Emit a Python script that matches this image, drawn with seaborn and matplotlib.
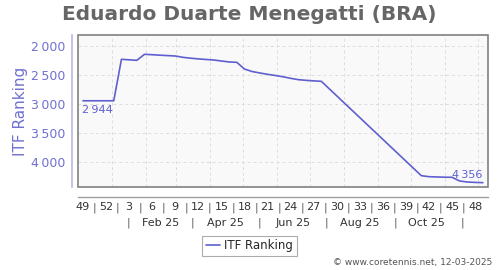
import matplotlib
matplotlib.use("Agg")
import matplotlib.pyplot as plt
import matplotlib.ticker as mticker
from matplotlib.patches import Rectangle
import seaborn as sns
import pandas as pd
import datetime as dt

# ---- data ----
weeks = [0, 1, 2, 3, 4, 5, 6, 7, 8, 9, 10, 11, 12, 13, 14, 15, 16, 17, 18, 19,
         20, 21, 22, 23, 24, 25, 26, 27, 28, 29, 30, 31,
         44, 45, 46, 47, 48, 49, 50, 51, 52]
ranks = [2944, 2944, 2944, 2944, 2944, 2229, 2238, 2247, 2143, 2150, 2158, 2165,
         2172, 2195, 2210, 2222, 2232, 2241, 2258, 2275, 2281, 2397, 2440, 2465,
         2488, 2508, 2530, 2557, 2580, 2592, 2601, 2609,
         4236, 4253, 4258, 4262, 4264, 4328, 4345, 4352, 4356]
week_labels = ["49", "52", "3", "6", "9", "12", "15", "18", "21", "24", "27",
               "30", "33", "36", "39", "42", "45", "48"]
month_labels = ["Feb 25", "Apr 25", "Jun 25", "Aug 25", "Oct 25"]
y_ticks = [2000, 2500, 3000, 3500, 4000]
series_name = "ITF Ranking"
title = "Eduardo Duarte Menegatti (BRA)"
credit = "\u00a9 www.coretennis.net, 12-03-2025"

origin = dt.date(2024, 12, 6)
def wpos(d):
    return (d - origin).days / 7.0

grid_dates = [dt.date(2025, m, 1) for m in range(1, 13)]
month_label_dates = [dt.date(2025, m, 15) for m in (2, 4, 6, 8, 10)]
sep_dates = [dt.date(2025, m, 16) for m in (1, 3, 5, 7, 9, 11)]

df = pd.DataFrame({"week": weeks, "rank": ranks})

LINE = "#5f5fcf"
LAV = "#7070d2"

sns.set_style("white")
plt.rcParams["font.family"] = ["DejaVu Sans"]

fig = plt.figure(figsize=(5, 2.7), dpi=100)
ax = fig.add_axes([78 / 500, 1 - 187 / 270, 410 / 500, 152 / 270])
ax.set_facecolor("#f9f9f9")

sns.lineplot(data=df, x="week", y="rank", ax=ax, color=LINE, linewidth=1.2,
             label=series_name, legend=False)

ax.set_xlim(-0.65, 52.67)
ax.set_ylim(4431, 1810)

# grid
for g in grid_dates:
    ax.axvline(wpos(g), color="#dddddd", lw=0.7, ls=(0, (3, 3)), zorder=0)
for y in y_ticks:
    ax.axhline(y, color="#dddddd", lw=0.7, ls=(0, (3, 3)), zorder=0)

# frame
ax.add_patch(Rectangle((0, 0), 1, 1, transform=ax.transAxes, fill=False,
                       edgecolor="#808080", lw=1.2, zorder=5, clip_on=False))

# spines
ax.spines["top"].set_visible(False)
ax.spines["right"].set_visible(False)
ax.spines["left"].set_position(("outward", 4))
ax.spines["left"].set_color("#b8b8e6")
ax.spines["left"].set_linewidth(1.2)
ax.spines["left"].set_bounds(4431, 1810)
ax.spines["bottom"].set_position(("outward", 7))
ax.spines["bottom"].set_color("#a0a0a0")
ax.spines["bottom"].set_linewidth(1.0)

# y ticks
ax.set_yticks(y_ticks)
ax.yaxis.set_major_formatter(mticker.FuncFormatter(
    lambda v, p: f"{v:,.0f}".replace(",", "\u2009")))
ax.tick_params(axis="y", length=3, width=1, color="#b8b8e6", pad=2,
               labelsize=9, labelcolor=LAV)
ax.set_ylabel(series_name, color=LAV, fontsize=11, labelpad=2)

# x ticks: weeks
ax.set_xticks([3 * k for k in range(len(week_labels))])
ax.set_xticklabels(week_labels)
ax.set_xticks([1.5 + 3 * k for k in range(len(week_labels) - 1)], minor=True)
ax.set_xticklabels(["|"] * (len(week_labels) - 1), minor=True)
ax.tick_params(axis="x", which="major", length=0, pad=4, labelsize=8,
               labelcolor="#333333")
ax.tick_params(axis="x", which="minor", length=3, width=0.8, color="#a0a0a0",
               direction="out", pad=1, labelsize=8, labelcolor="#555555")
ax.set_xlabel("")

# second row: months
trans = ax.get_xaxis_transform()
for d, lab in zip(month_label_dates, month_labels):
    ax.text(wpos(d), -0.235, lab, transform=trans, ha="center", va="center",
            fontsize=8, color="#333333", clip_on=False)
for d in sep_dates:
    ax.text(wpos(d), -0.235, "|", transform=trans, ha="center", va="center",
            fontsize=8, color="#555555", clip_on=False)

# point labels
ax.annotate(f"{ranks[0]:,}".replace(",", "\u2009"), xy=(weeks[0], ranks[0]),
            xytext=(-1, -3), textcoords="offset points", ha="left", va="top",
            fontsize=8, color=LINE)
ax.annotate(f"{ranks[-1]:,}".replace(",", "\u2009"), xy=(weeks[-1], ranks[-1]),
            xytext=(0, 2), textcoords="offset points", ha="right", va="bottom",
            fontsize=8, color=LINE)

# title, legend, credit
fig.text(0.498, 1 - 14 / 270, title, ha="center", va="center", fontsize=14.5,
         fontweight="bold", color="#666666")
h, l = ax.get_legend_handles_labels()
leg = fig.legend(h, l, loc="center", bbox_to_anchor=(249.5 / 500, 1 - 246 / 270),
                 fontsize=8.5, frameon=True, fancybox=False, edgecolor="#999999",
                 handlelength=1.2, handletextpad=0.35, borderpad=0.3,
                 borderaxespad=0)
leg.get_frame().set_linewidth(0.8)
fig.text(492 / 500, 1 - 263 / 270, credit, ha="right", va="center",
         fontsize=6.5, color="#555555")

fig.savefig("out.png", dpi=100)
